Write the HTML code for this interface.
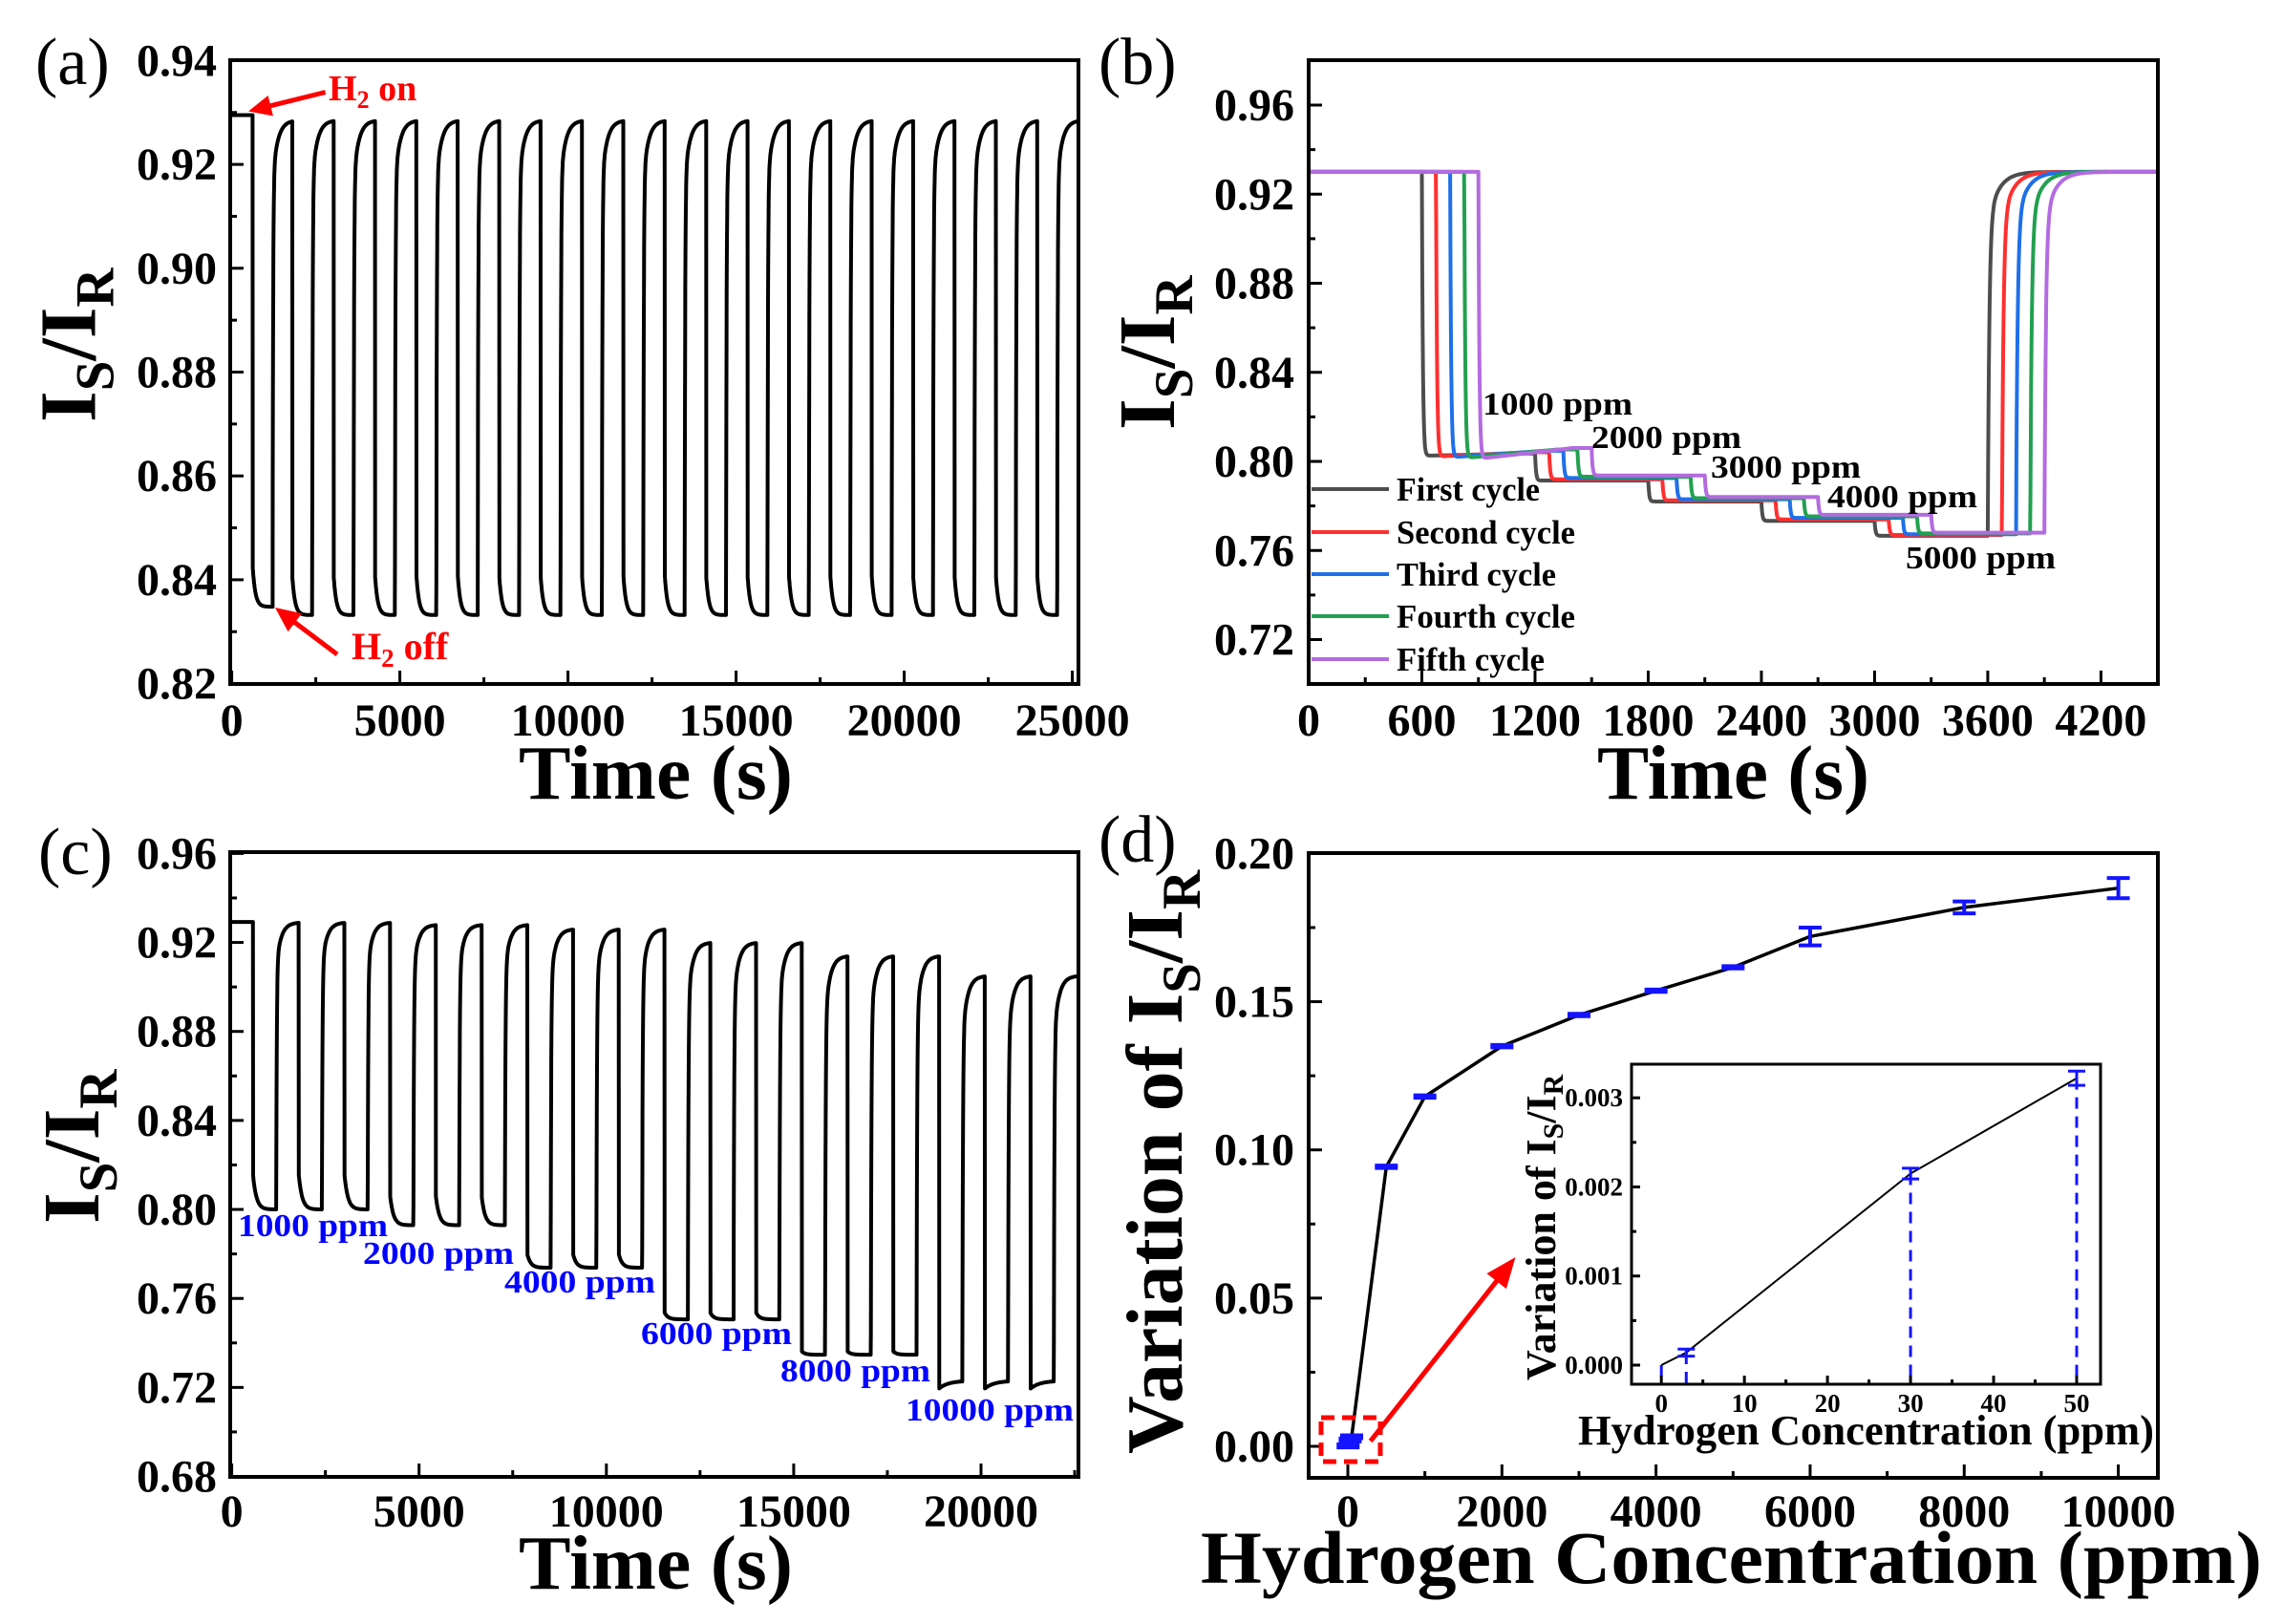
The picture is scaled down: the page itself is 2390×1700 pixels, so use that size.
<!DOCTYPE html>
<html><head><meta charset="utf-8"><style>html,body{margin:0;padding:0;background:#fff}svg{display:block}</style></head>
<body>
<svg id="s" width="2390" height="1700" xmlns="http://www.w3.org/2000/svg" style="background:#fff"></svg>
<script>
const S=document.getElementById('s');const NS='http://www.w3.org/2000/svg';const FF="'Liberation Serif', serif";
function E(t,a,txt,par){const e=document.createElementNS(NS,t);for(const k in a)e.setAttribute(k,a[k]);if(txt!=null)e.textContent=txt;(par||S).appendChild(e);return e;}
function T(x,y,s,o={}){const a={x:x,y:y,'font-size':o.fs||48,'font-family':FF,'font-weight':o.w||'bold',fill:o.c||'#000','text-anchor':o.a||'start'};if(o.len){a.textLength=o.len;a.lengthAdjust='spacingAndGlyphs';}return E('text',a,s);}
function P(pts,o={}){const d='M'+pts.map(p=>p[0].toFixed(1)+','+p[1].toFixed(1)).join('L');return E('path',{d:d,fill:'none',stroke:o.c||'#000','stroke-width':o.w||4,'stroke-linejoin':'round','stroke-linecap':o.cap||'butt','stroke-dasharray':o.da||'none'});}
function L(x1,y1,x2,y2,c,w,da){return E('line',{x1:x1,y1:y1,x2:x2,y2:y2,stroke:c||'#000','stroke-width':w||3,'stroke-dasharray':da||'none'});}
function frame(l,t,r,b,X,Y,xmaj,xmin,ymaj,ymin,w,ml,mn){
 w=w||4;ml=ml||14;mn=mn||7;
 xmaj.forEach(v=>L(X(v),b,X(v),b-ml,'#000',3));
 xmin.forEach(v=>L(X(v),b,X(v),b-mn,'#000',3));
 ymaj.forEach(v=>L(l,Y(v),l+ml,Y(v),'#000',3));
 ymin.forEach(v=>L(l,Y(v),l+mn,Y(v),'#000',3));
 E('rect',{x:l,y:t,width:r-l,height:b-t,fill:'none',stroke:'#000','stroke-width':w});
}
function rng(a,b,s){const r=[];for(let v=a;v<=b+s*1e-6;v+=s)r.push(+v.toFixed(6));return r;}
function ytitle(x,y,main1,sub1,main2,sub2,fs,sfs,dy,pre){
 const t=E('text',{transform:`translate(${x},${y}) rotate(-90)`,'font-size':fs,'font-family':FF,'font-weight':'bold',fill:'#000'});
 E('tspan',{},(pre||'')+main1,t);E('tspan',{'font-size':sfs,dy:dy},sub1,t);E('tspan',{'font-size':fs,dy:-dy},main2,t);E('tspan',{'font-size':sfs,dy:dy},sub2,t);
}
function sub(x,y,a,b,c,fs,sfs,dy,col){const t=E('text',{x:x,y:y,'font-size':fs,'font-family':FF,'font-weight':'bold',fill:col});E('tspan',{},a,t);E('tspan',{'font-size':sfs,dy:dy},b,t);E('tspan',{'font-size':fs,dy:-dy},c,t);}
function arrow(x1,y1,x2,y2,c,w,hl,hw){const dx=x2-x1,dy=y2-y1,l=Math.hypot(dx,dy),ux=dx/l,uy=dy/l;const bx=x2-ux*hl,by=y2-uy*hl;L(x1,y1,bx+ux*2,by+uy*2,c,w);E('polygon',{points:`${x2},${y2} ${bx-uy*hw},${by+ux*hw} ${bx+uy*hw},${by-ux*hw}`,fill:c});}

/* ---------- Panel (a) ---------- */
(function(){
 const X=t=>242.6+t*0.0352,Y=v=>63.4+(0.94-v)*5435;
 const d=[625];for(let k=1;k<=19;k++)d.push(1801+1231*(k-1));
 const pts=[];
 for(let t=0;t<=25180;t+=5){
  let k=-1;for(let i=0;i<d.length;i++)if(t>=d[i])k=i;
  let v;
  if(k<0)v=0.9295;
  else{const ts=t-d[k];const Lm=k==0?0.8348:0.8332;
   if(ts<590){v=Lm+0.0075*Math.exp(-ts/80);}
   else{const ve=Lm+0.0075*Math.exp(-590/80);const tr=ts-590;v=0.9285-(0.9285-ve)*(0.88*Math.exp(-tr/15)+0.12*Math.exp(-tr/150));}
  }
  pts.push([X(t),Y(v)]);
 }
 P(pts,{w:4});
 frame(241,63,1129,716,X,Y,rng(0,25000,5000),rng(2500,22500,5000).concat([25000]),rng(0.82,0.94,0.02),rng(0.83,0.93,0.02));
 rng(0.82,0.94,0.02).forEach(v=>T(227,Y(v)+16,v.toFixed(2),{a:'end'}));
 rng(0,25000,5000).forEach(v=>T(X(v),770,String(v),{a:'middle'}));
 T(543,836,'Time (s)',{fs:80,len:287});
 ytitle(99.5,442,'I','S','/I','R',84,57,19);
 T(37,88,'(a)',{fs:70,w:'normal'});
 arrow(340.6,96.5,260,116.5,'#ff0000',5,24,11);
 sub(344,105,'H','2',' on',38,26,8,'#ff0000');
 arrow(353,685,288,636,'#ff0000',5,26,12);
 sub(368,690,'H','2',' off',40,27,8,'#ff0000');
})();

/* ---------- Panel (b) ---------- */
(function(){
 const X=t=>1370+t*0.19748,Y=v=>110+(0.96-v)*2331.25;
 const cols=['#4d4d4d','#ff3030','#1f6fe8','#22a050','#b36be0'];
 const Lb=[0.8025,0.7914,0.782,0.7733,0.7666],Lp=[0.8012,0.7937,0.784,0.776,0.768];
 for(let k=0;k<5;k++){
  const T1=600+75*k,f=k/4;
  const lv=Lb.map((b,i)=>b+(Lp[i]-b)*f);
  const l1e=0.8035+0.0025*f;
  const lvEnd=i=>i==0?l1e:lv[i];
  const pts=[];
  for(let t=0;t<=4500;t+=2){
   let v;
   if(t<T1)v=0.93;
   else if(t<T1+3000){const i=Math.floor((t-T1)/600),ts=t-T1-600*i;
    const base=i==0?lv[0]+(l1e-lv[0])*Math.min(1,ts/500):lv[i];
    const prev=i==0?0.93:lvEnd(i-1);
    v=base+(prev-base)*Math.exp(-ts/5);}
   else{const tr=t-T1-3000,L5=lv[4];v=0.93-(0.93-L5)*(0.86*Math.exp(-tr/8)+0.14*Math.exp(-tr/55));}
   pts.push([X(t),Y(v)]);
  }
  P(pts,{c:cols[k],w:4});
 }
 frame(1370,63,2259,716,X,Y,rng(0,4200,600),rng(300,4500,600),rng(0.72,0.96,0.04),rng(0.70,0.98,0.04));
 rng(0.72,0.96,0.04).forEach(v=>T(1355,Y(v)+16,v.toFixed(2),{a:'end'}));
 rng(0,4200,600).forEach(v=>T(X(v),770,String(v),{a:'middle'}));
 T(1672,836,'Time (s)',{fs:80,len:285});
 ytitle(1229,450,'I','S','/I','R',84,57,19);
 T(1150,88,'(b)',{fs:70,w:'normal'});
 const names=['First cycle','Second cycle','Third cycle','Fourth cycle','Fifth cycle'];
 const ly=[512,557,601,645,690],lens=[150,187,167,187,155];
 for(let i=0;i<5;i++){L(1373,ly[i],1454,ly[i],cols[i],4);T(1462,ly[i]+12,names[i],{fs:35,len:lens[i]});}
 const ann=[['1000 ppm',1552,434],['2000 ppm',1666,469],['3000 ppm',1791,500],['4000 ppm',1913,531],['5000 ppm',1995,595]];
 ann.forEach(a=>T(a[1],a[2],a[0],{fs:34,len:157}));
})();

/* ---------- Panel (c) ---------- */
(function(){
 const X=t=>242.6+t*0.03922,Y=v=>893.4+(0.96-v)*2329;
 const Lmin=[0.800,0.7929,0.7738,0.7506,0.7347,0.7195],A=[0.016,0.013,0.006,0.003,0.0015,0];
 const Top=[0.929,0.928,0.926,0.920,0.914,0.905];
 const low=(g,ts)=>g==5?0.7195+0.0035*(1-Math.exp(-ts/250)):Lmin[g]+A[g]*Math.exp(-ts/90);
 const pts=[];
 for(let t=0;t<=22600;t+=5){
  let i=Math.floor((t-566)/1221);let v;
  if(t<566)v=0.9292;
  else{if(i>17)i=17;const ts=t-566-1221*i,g=Math.floor(i/3);
   if(ts<620)v=low(g,ts);
   else{const ve=low(g,620),tr=ts-620,tp=Top[g];v=tp-(tp-ve)*(0.85*Math.exp(-tr/15)+0.15*Math.exp(-tr/130));}}
  pts.push([X(t),Y(v)]);
 }
 P(pts,{w:4});
 frame(241,892,1129,1546,X,Y,rng(0,20000,5000),rng(2500,22500,5000),rng(0.68,0.96,0.04),rng(0.70,0.94,0.04));
 rng(0.68,0.96,0.04).forEach(v=>T(227,Y(v)+16,v.toFixed(2),{a:'end'}));
 rng(0,20000,5000).forEach(v=>T(X(v),1598,String(v),{a:'middle'}));
 T(543,1663,'Time (s)',{fs:80,len:287});
 ytitle(103,1281,'I','S','/I','R',84,57,19);
 T(40,915,'(c)',{fs:70,w:'normal'});
 const ann=[['1000 ppm',249,1294,157],['2000 ppm',380,1323,158],['4000 ppm',528,1353,158],['6000 ppm',671,1407,158],['8000 ppm',817,1446,157],['10000 ppm',948,1487,176]];
 ann.forEach(a=>T(a[1],a[2],a[0],{fs:34,len:a[3],c:'#0000ff'}));
})();

/* ---------- Panel (d) ---------- */
(function(){
 const X=c=>1411+c*0.08066,Y=v=>1514-v*3103;
 const data=[[0,0],[3,0.00014],[30,0.00215],[50,0.00322],[500,0.0943],[1000,0.118],[2000,0.135],[3000,0.1455],[4000,0.1537],[5000,0.1616],[6000,0.172],[8000,0.1818],[10000,0.1883]];
 const err=[0,0.0005,0.0005,0.0005,0.0004,0.0004,0.0004,0.0004,0.0004,0.0004,0.003,0.002,0.0034];
 P(data.map(p=>[X(p[0]),Y(p[1])]),{w:3.5});
 const B='#1414ff';
 data.forEach((p,i)=>{if(i==0)return;const x=X(p[0]),e=err[i];const y1=Y(p[1]+e),y2=Y(p[1]-e);
  L(x,y1,x,y2,B,4);L(x-12,y1,x+12,y1,B,4);L(x-12,y2,x+12,y2,B,4);});
 frame(1370,893,2259,1547,X,Y,rng(0,10000,2000),rng(1000,9000,2000),rng(0,0.2,0.05),rng(0.025,0.175,0.05));
 rng(0,0.2,0.05).forEach(v=>T(1355,Y(v)+16,v.toFixed(2),{a:'end'}));
 rng(0,10000,2000).forEach(v=>T(X(v),1598,String(v),{a:'middle'}));
 T(1257,1657,'Hydrogen Concentration (ppm)',{fs:78,len:1111});
 ytitle(1237,1522,'I','S','/I','R',84,57,19,'Variation of ');
 T(1150,902,'(d)',{fs:70,w:'normal'});
 E('rect',{x:1383,y:1484,width:62,height:46,fill:'none',stroke:'#ff0000','stroke-width':5,'stroke-dasharray':'14,8'});
 arrow(1434.7,1508.6,1586.5,1316,'#ff0000',5,32,13);
 const x0=1708,y0=1114,x1=2199,y1=1449;
 E('rect',{x:x0,y:y0,width:x1-x0,height:y1-y0,fill:'#fff',stroke:'none'});
 const IX=c=>1739.2+c*8.696,IY=v=>1429-v*93270;
 const idat=[[0,0],[3,0.00014],[30,0.00215],[50,0.00322]];
 idat.forEach(p=>L(IX(p[0]),IY(p[1]),IX(p[0]),y1,'#1414ff',3,'12,8'));
 P(idat.map(p=>[IX(p[0]),IY(p[1])]),{w:2});
 [[3,0.00014,0.00004],[30,0.00215,0.00006],[50,0.00322,0.00008]].forEach(p=>{const x=IX(p[0]),a=IY(p[1]+p[2]),b=IY(p[1]-p[2]);L(x,a,x,b,'#1414ff',3);L(x-9,a,x+9,a,'#1414ff',3);L(x-9,b,x+9,b,'#1414ff',3);});
 frame(x0,y0,x1,y1,IX,IY,rng(0,50,10),rng(5,45,10),rng(0,0.003,0.001),rng(0.0005,0.0030,0.001),3,9,5);
 rng(0,0.003,0.001).forEach(v=>T(1699,IY(v)+9,v.toFixed(3),{a:'end',fs:27}));
 rng(0,50,10).forEach(v=>T(IX(v),1478,String(v),{a:'middle',fs:27}));
 T(1652,1512,'Hydrogen Concentration (ppm)',{fs:44,len:603});
 ytitle(1628,1445,'I','S','/I','R',44,30,8,'Variation of ');
})();
</script>
</body></html>
